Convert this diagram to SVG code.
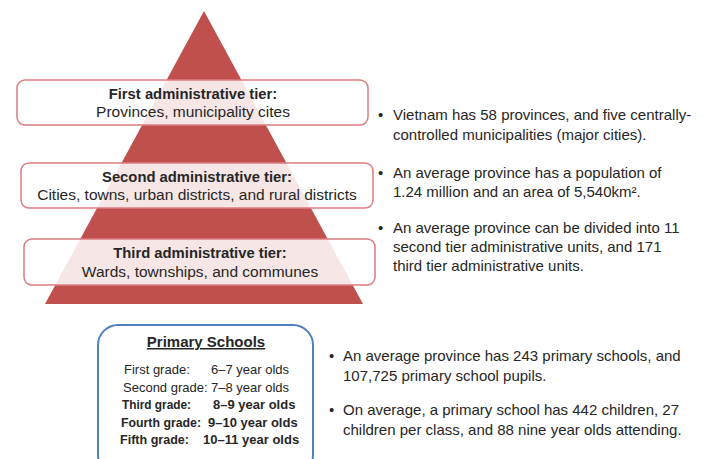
<svg xmlns="http://www.w3.org/2000/svg" width="711" height="459" viewBox="0 0 711 459">
<style>
text{font-family:"Liberation Sans",Arial,sans-serif;fill:#262626}
.t{font-size:15.5px;text-anchor:middle}
.tb{font-size:14.8px;font-weight:bold;text-anchor:middle}
.tier{fill:#ffffff;fill-opacity:0.86;stroke:#dc7c80;stroke-width:1.5}
.f{font-size:15px}
.g{font-size:13px}
.gb{font-size:13px;font-weight:bold}
</style>
<rect width="711" height="459" fill="#ffffff"/>
<g id="pyramid">
<polygon points="204,11 45,304 363,304" fill="#c0504d"/>
</g>
<g id="tier1">
<rect class="tier" x="17" y="80" width="351" height="45" rx="8"/>
<text class="tb" x="193" y="99">First administrative tier:</text>
<text class="t" x="193" y="117">Provinces, municipality cites</text>
</g>
<g id="tier2">
<rect class="tier" x="21" y="163" width="352" height="45" rx="8"/>
<text class="tb" x="197" y="182">Second administrative tier:</text>
<text class="t" x="197" y="200">Cities, towns, urban districts, and rural districts</text>
</g>
<g id="tier3">
<rect class="tier" x="24" y="239" width="351" height="46" rx="8"/>
<text class="tb" x="200" y="258">Third administrative tier:</text>
<text class="t" x="200" y="277">Wards, townships, and communes</text>
</g>
<g id="facts-admin" class="f">
<text class="f" x="378" y="120">•</text>
<text class="f" x="393" y="120">Vietnam has 58 provinces, and five centrally-</text>
<text class="f" x="393" y="140">controlled municipalities (major cities).</text>
<text class="f" x="378" y="178">•</text>
<text class="f" x="393" y="178">An average province has a population of</text>
<text class="f" x="393" y="197">1.24 million and an area of 5,540km².</text>
<text class="f" x="378" y="233">•</text>
<text class="f" x="393" y="233">An average province can be divided into 11</text>
<text class="f" x="393" y="252">second tier administrative units, and 171</text>
<text class="f" x="393" y="271">third tier administrative units.</text>
</g>
<g id="primary-schools">
<rect x="98" y="325" width="215" height="150" rx="20" fill="#ffffff" stroke="#4f81bd" stroke-width="2"/>
<text x="206" y="347" font-size="15" font-weight="bold" text-anchor="middle" text-decoration="underline">Primary Schools</text>
<text class="g" y="374"><tspan x="124">First grade:</tspan><tspan x="211">6–7 year olds</tspan></text>
<text class="g" y="392"><tspan x="123">Second grade:</tspan><tspan x="211">7–8 year olds</tspan></text>
<text class="gb" x="122" y="409" textLength="69" lengthAdjust="spacingAndGlyphs">Third grade:</text>
<text class="gb" x="213" y="409">8–9 year olds</text>
<text class="gb" x="121" y="427" textLength="80" lengthAdjust="spacingAndGlyphs">Fourth grade:</text>
<text class="gb" x="208" y="427">9–10 year olds</text>
<text class="gb" x="120" y="444" textLength="69" lengthAdjust="spacingAndGlyphs">Fifth grade:</text>
<text class="gb" x="203" y="444">10–11 year olds</text>
</g>
<g id="facts-schools">
<text class="f" x="329" y="361">•</text>
<text class="f" x="343" y="361">An average province has 243 primary schools, and</text>
<text class="f" x="343" y="381">107,725 primary school pupils.</text>
<text class="f" x="329" y="415">•</text>
<text class="f" x="343" y="415">On average, a primary school has 442 children, 27</text>
<text class="f" x="343" y="435">children per class, and 88 nine year olds attending.</text>
</g>
</svg>
